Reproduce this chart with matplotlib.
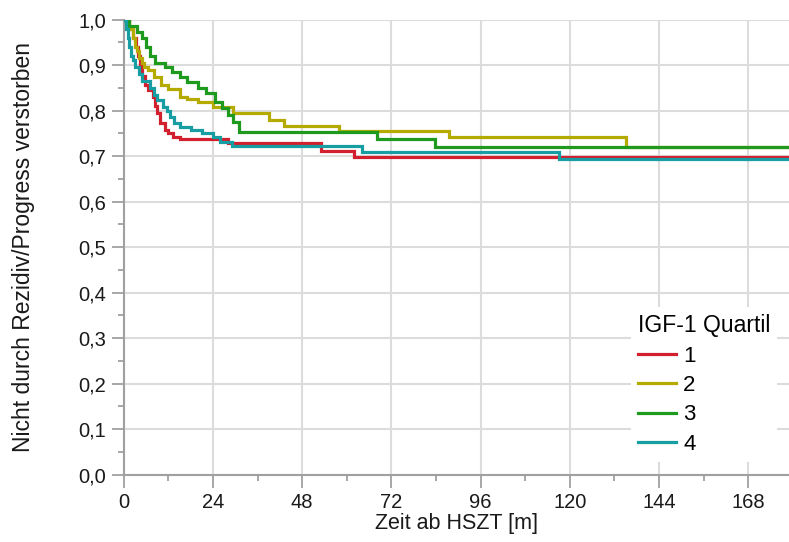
import numpy as np
import matplotlib.pyplot as plt
from matplotlib.ticker import MultipleLocator

plt.rcParams['font.family'] = ['Liberation Sans', 'DejaVu Sans']

# Kaplan-Meier Stufen je IGF-1 Quartil (Monate, Anteil nach der Stufe)
t_q1 = [0, 1.5, 2.5, 3.2, 3.8, 4.3, 5, 5.8, 6.5, 7.8, 8.3, 8.8, 9.7, 11, 11.8, 13.2, 15, 28, 53, 62]
s_q1 = [1.0, 0.98, 0.96, 0.94, 0.92, 0.90, 0.875, 0.855, 0.845, 0.83, 0.81, 0.795, 0.772, 0.757, 0.75, 0.742, 0.737, 0.728, 0.712, 0.698]

t_q2 = [0, 1.5, 2.5, 3, 3.5, 4, 5, 5.5, 6.5, 8, 10, 12, 15, 17, 20, 24, 29.5, 39, 43, 58, 87.5, 135]
s_q2 = [1.0, 0.98, 0.96, 0.94, 0.93, 0.915, 0.905, 0.895, 0.889, 0.873, 0.856, 0.847, 0.83, 0.825, 0.818, 0.808, 0.794, 0.78, 0.766, 0.755, 0.742, 0.72]

t_q3 = [0, 1.5, 3.5, 5, 6, 7, 8.5, 11, 13, 15, 17, 20, 22, 24.5, 26.5, 28, 29.5, 31, 68, 83.6]
s_q3 = [1.0, 0.986, 0.972, 0.96, 0.94, 0.92, 0.905, 0.895, 0.885, 0.873, 0.862, 0.85, 0.838, 0.819, 0.805, 0.79, 0.775, 0.753, 0.737, 0.72]

t_q4 = [0, 0.5, 1, 1.5, 2, 2.5, 3, 4, 5, 7, 8, 9, 10.5, 11.5, 12.5, 13.5, 15, 18, 21, 24, 26, 29, 64, 117]
s_q4 = [1.0, 0.98, 0.96, 0.94, 0.92, 0.91, 0.895, 0.88, 0.865, 0.85, 0.835, 0.823, 0.808, 0.80, 0.786, 0.772, 0.764, 0.757, 0.75, 0.742, 0.731, 0.723, 0.708, 0.693]

quartile_labels = ["1", "2", "3", "4"]
colors = ["#d2202e", "#b4aa00", "#1e9a1e", "#179ea2"]

x_ticks = [0, 24, 48, 72, 96, 120, 144, 168]
y_ticks = [0.0, 0.1, 0.2, 0.3, 0.4, 0.5, 0.6, 0.7, 0.8, 0.9, 1.0]
y_tick_labels = ["0,0", "0,1", "0,2", "0,3", "0,4", "0,5", "0,6", "0,7", "0,8", "0,9", "1,0"]
x_max = 179

fig = plt.figure(figsize=(7.89, 5.42), dpi=100)
ax = fig.add_axes([0.157, 0.1245, 0.843, 0.8395])

curves = [(t_q1, s_q1), (t_q2, s_q2), (t_q3, s_q3), (t_q4, s_q4)]
for i in range(len(curves)):
    t, s = curves[i]
    t = list(t) + [x_max]
    s = list(s) + [s[-1]]
    ax.step(t, s, where='post', color=colors[i], lw=2.3, label=quartile_labels[i],
            solid_joinstyle='miter', zorder=3)

ax.set_xlim(0, x_max)
ax.set_ylim(0, 1.0)
ax.set_xticks(x_ticks)
ax.set_yticks(y_ticks)
ax.set_yticklabels(y_tick_labels)
ax.xaxis.set_minor_locator(MultipleLocator(12))
ax.yaxis.set_minor_locator(MultipleLocator(0.05))

ax.grid(True, which='major', color='#dcdcdc', lw=1.5, zorder=0)
ax.set_axisbelow(True)

for side in ['top', 'right']:
    ax.spines[side].set_visible(False)
for side in ['left', 'bottom']:
    ax.spines[side].set_color('#a0a0a0')
    ax.spines[side].set_linewidth(1.5)

ax.tick_params(which='major', length=9, width=1.3, color='#a0a0a0', labelsize=14.5,
               labelcolor='#1a1a1a', pad=4)
ax.tick_params(which='minor', length=4.5, width=1.3, color='#a0a0a0')

ax.set_xlabel("Zeit ab HSZT [m]", fontsize=15.5, color='#1a1a1a', labelpad=1)
ax.set_ylabel("Nicht durch Rezidiv/Progress verstorben", fontsize=16.5, color='#1a1a1a', labelpad=31)

leg = ax.legend(title="IGF-1 Quartil", loc='lower right', bbox_to_anchor=(0.998, 0.004),
                fontsize=16, title_fontsize=16.5, frameon=True, fancybox=False,
                handlelength=1.75, handletextpad=0.3, labelspacing=0.38, borderpad=0.3)
leg.get_frame().set_facecolor('white')
leg.get_frame().set_edgecolor('none')
leg.get_frame().set_alpha(1.0)
leg._legend_box.align = "left"

fig.savefig("out.png", dpi=100)
